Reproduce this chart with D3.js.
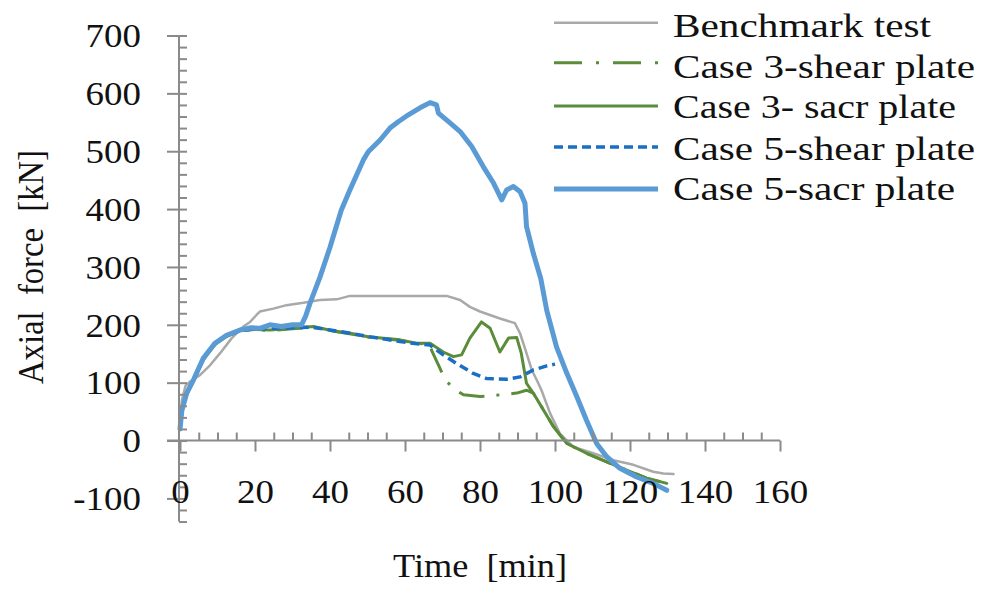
<!DOCTYPE html>
<html><head><meta charset="utf-8">
<script src="https://cdn.jsdelivr.net/npm/d3@7/dist/d3.min.js"></script>
<style>body{margin:0;background:#fff}svg{display:block}text{font-family:"Liberation Serif","Times New Roman",serif;fill:#111}</style>
</head><body><svg id="c" width="983" height="589"></svg>
<script>
const xTicks = [0,20,40,60,80,100,120,140,160];
const yTicks = [-100,0,100,200,300,400,500,600,700];
const seriesNames = ["Benchmark test","Case 3-shear plate","Case 3- sacr plate","Case 5-shear plate","Case 5-sacr plate"];
const benchmark = [[0,30],[0.5,70],[1.5,95],[2.7,102],[5.3,113],[8,130],[10.7,151],[13.8,177],[16.9,197],[18.7,205],[20.4,217],[21.3,223],[24.9,228],[28.4,234],[32.9,238],[37.3,243],[41.8,244],[45.3,250],[60,250],[71.1,250],[74.7,243],[77.3,231],[80,223],[85.3,211],[89.3,203],[90.7,185],[92.4,151],[93.8,122],[95.1,105],[96.4,87],[98.7,47],[101.3,12],[104.9,-11],[110.2,-22],[115.6,-34],[120.9,-42],[126.2,-54],[128.9,-57],[131.6,-58]];
const case3Shear = [[0,20],[0.5,50],[1.8,80],[3.6,104],[6.2,140],[9.3,166],[12.4,180],[16,190],[20,192],[24,190],[30,193],[35.6,196],[40,190],[45,186],[50.7,178],[55,176],[58.7,173],[63,168],[66.7,166],[67.1,156],[69.3,125],[70.7,105],[72.9,90],[75.6,79],[80,76],[85.3,79],[89.8,82],[92.4,87],[94.2,82],[96.9,53],[99.6,24],[103.1,-5],[108.4,-22],[113.8,-37],[119.1,-51],[124.4,-65],[129.8,-74]];
const case3Sacr = [[0,20],[0.5,50],[1.8,80],[3.6,104],[6.2,140],[9.3,166],[12.4,180],[16,190],[20,192],[24,191],[30,194],[35.6,197],[41.8,188],[50.7,179],[58.7,174],[63,168],[66.7,168],[70.2,153],[72.9,145],[75.1,148],[77.3,177],[80.4,205],[82.7,194],[85.3,153],[87.6,177],[89.8,178],[91,151],[92.4,99],[94.2,82],[96.9,53],[99.6,24],[103.1,-5],[108.4,-22],[113.8,-37],[119.1,-51],[124.4,-65],[129.8,-74]];
const case5Shear = [[0,20],[0.5,51],[1.8,81],[3.6,104],[6.2,141],[9.3,167],[12.4,181],[16,190],[20,193],[25,194],[30,195],[35,196],[40,191],[45,186],[50,180],[55,175],[58.7,171],[62,168],[66.7,165],[70.2,148],[73.8,133],[78.2,116],[81.8,107],[87.1,106],[90.7,110],[94.2,122],[97.8,129],[100,132]];
const case5Sacr = [[0,20],[0.5,52],[1.8,82],[3.6,105],[6.2,142],[9.3,168],[12.4,182],[16,191],[19,195],[21.3,194],[24,200],[27,197],[30,200],[32.4,200],[33.5,215],[34.7,238],[37.3,282],[40,334],[43,398],[45.3,433],[48.9,485],[50.2,499],[53.3,519],[56,540],[58.2,551],[60.9,563],[64,575],[66.7,584],[68.4,580],[68.9,566],[72,549],[74.7,534],[77.8,508],[80.9,473],[83.6,445],[85.8,416],[87.1,433],[88.9,439],[90.7,430],[92,410],[92.4,370],[94.2,324],[96.2,280],[97.8,225],[100.4,162],[103.1,117],[105.8,76],[108.4,35],[111.1,-5],[113.8,-28],[117.3,-48],[121.8,-63],[126.2,-74],[129.8,-86]];

const svg = d3.select("#c");
const x = d3.scaleLinear([0,160],[180,780]);
const y = d3.scaleLinear([-100,700],[498.4,35.5]);
const axisColor = "#8a8a8a";
const fmt = d => String(d);

const styles = [
  {data:benchmark, color:"#a9a9a9", w:2.5, dash:null},
  {data:case3Shear, color:"#5b8c3a", w:3, dash:"26,12,3,12"},
  {data:case3Sacr, color:"#5b8c3a", w:3, dash:null},
  {data:case5Shear, color:"#1a6fc4", w:3.5, dash:"9,5"},
  {data:case5Sacr, color:"#5b9bd5", w:5, dash:null}
];
const line = d3.line().x(d=>x(d[0])).y(d=>y(d[1]));
const gLines = svg.append("g");
styles.forEach(s=>{
  gLines.append("path").attr("d", line(s.data)).attr("fill","none")
    .attr("stroke", s.color).attr("stroke-width", s.w)
    .attr("stroke-linejoin","round").attr("stroke-linecap", s.dash? "butt":"round")
    .attr("stroke-dasharray", s.dash);
});

// y axis
const gy = svg.append("g").attr("transform",`translate(${x(0)-1},0)`);
gy.append("line").attr("x1",0).attr("x2",0).attr("y1",y(700)).attr("y2",y(-140)).attr("stroke",axisColor).attr("stroke-width",2);
const yL = gy.append("g").call(d3.axisLeft(y).tickValues(yTicks).tickFormat(fmt).tickSize(12).tickSizeOuter(0).tickPadding(0));
yL.select(".domain").remove();
yL.selectAll(".tick line").attr("stroke",axisColor).attr("stroke-width",2);
yL.selectAll(".tick text").attr("x",0).attr("dy","0.34em")
  .attr("transform","translate(-38,0) scale(1.12,1)").style("font-size","33px").attr("fill","#111");
const yR = gy.append("g").call(d3.axisRight(y).tickValues(d3.range(-140,701,20)).tickSize(8).tickSizeOuter(0).tickFormat(""));
yR.select(".domain").remove();
yR.selectAll(".tick line").attr("stroke",axisColor).attr("stroke-width",2);

// x axis
const gx = svg.append("g").attr("transform",`translate(0,${y(0)})`);
gx.append("line").attr("x1",x(0)-13).attr("x2",x(160)).attr("y1",0).attr("y2",0).attr("stroke",axisColor).attr("stroke-width",2);
const xB = gx.append("g").call(d3.axisBottom(x).tickValues(xTicks).tickFormat(fmt).tickSize(11).tickSizeOuter(0));
xB.select(".domain").remove();
xB.selectAll(".tick line").attr("stroke",axisColor).attr("stroke-width",2);
xB.selectAll(".tick text").attr("y",62).attr("dy",0).attr("transform","scale(1.12,1)").style("font-size","33px").attr("fill","#111");
const xT = gx.append("g").call(d3.axisTop(x).tickValues(d3.range(5,161,5).filter(v=>v%20!==0)).tickSize(8).tickSizeOuter(0).tickFormat(""));
xT.select(".domain").remove();
xT.selectAll(".tick line").attr("stroke",axisColor).attr("stroke-width",2);

// axis titles
svg.append("text").attr("x",480).attr("y",577).attr("text-anchor","middle")
  .style("font-size","33px").style("white-space","pre").attr("textLength",174).attr("lengthAdjust","spacingAndGlyphs").text("Time  [min]");
svg.append("text").attr("transform","translate(43,267) rotate(-90)").attr("text-anchor","middle")
  .style("font-size","35px").style("white-space","pre").attr("textLength",234).attr("lengthAdjust","spacingAndGlyphs").text("Axial  force  [kN]");

// legend
const legLineY = [22.7,62.7,106,147,189];
const legBase = [36.7,78,118,160,200];
const legW = [258,302,283,302,282];
const lg = svg.append("g");
styles.forEach((s,i)=>{
  lg.append("line").attr("x1",554).attr("x2",658).attr("y1",legLineY[i]).attr("y2",legLineY[i])
    .attr("stroke",s.color).attr("stroke-width",s.w).attr("stroke-dasharray", s.dash ? (i===1?"28,14,3,14":"9,5") : null);
  lg.append("text").attr("x",673).attr("y",legBase[i]).style("font-size","33px")
    .attr("textLength",legW[i]).attr("lengthAdjust","spacingAndGlyphs").text(seriesNames[i]);
});
</script></body></html>
